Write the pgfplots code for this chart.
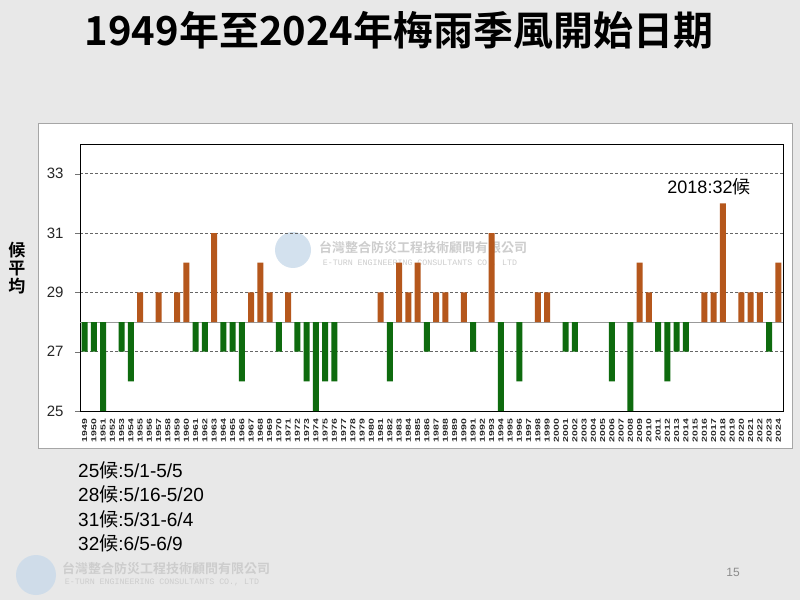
\documentclass[border=0pt]{standalone}
\usepackage{fontspec}
\setmainfont{Liberation Sans}
\newfontfamily\cjk{Noto Sans CJK TC}
\newfontfamily\cjkbold{Noto Sans CJK TC Bold}
\newfontfamily\wmmono{Liberation Mono}
\usepackage{graphicx}
\usepackage{pgfplots}
\pgfplotsset{compat=1.18}
\usepackage{pgfplotstable}
\definecolor{slidebg}{HTML}{E8E8E8}
\definecolor{barorange}{HTML}{B5571C}
\definecolor{bargreen}{HTML}{0E6B0E}
\definecolor{wmgray}{HTML}{CDCDCD}
\definecolor{logoblue}{HTML}{C9DAEA}

\pgfplotstableread{
year value
1955 29
1957 29
1959 29
1960 30
1963 31
1967 29
1968 30
1969 29
1971 29
1981 29
1983 30
1984 29
1985 30
1987 29
1988 29
1990 29
1993 31
1998 29
1999 29
2009 30
2010 29
2016 29
2017 29
2018 32
2020 29
2021 29
2022 29
2024 30
}\late

\pgfplotstableread{
year value
1949 27
1950 27
1951 25
1953 27
1954 26
1961 27
1962 27
1964 27
1965 27
1966 26
1970 27
1972 27
1973 26
1974 25
1975 26
1976 26
1982 26
1986 27
1991 27
1994 25
1996 26
2001 27
2002 27
2006 26
2008 25
2011 27
2012 26
2013 27
2014 27
2023 27
}\early

\begin{document}
\begin{tikzpicture}
\path[use as bounding box, fill=slidebg] (0pt,0pt) rectangle (800pt,600pt);
% chart box
\fill[white, draw=black!35, line width=0.8pt] (38pt,152pt) rectangle (792pt,477pt);

% title
\node[font=\cjkbold\fontsize{40}{40}\selectfont] at (399pt,570pt) {1949年至2024年梅雨季風開始日期};

% watermarks
\fill[logoblue, opacity=0.8] (293pt,350pt) circle (18pt);
\node[font=\cjkbold\fontsize{13}{13}\selectfont, text=wmgray] at (423pt,352pt) {台灣整合防災工程技術顧問有限公司};
\node[font=\wmmono\fontsize{8.3}{8.3}\selectfont, text=wmgray] at (420pt,337pt) {E-TURN ENGINEERING CONSULTANTS CO., LTD};

\fill[logoblue, opacity=0.8] (36pt,25pt) circle (20pt);
\node[font=\cjkbold\fontsize{13}{13}\selectfont, text=wmgray] at (166pt,32pt) {台灣整合防災工程技術顧問有限公司};
\node[font=\wmmono\fontsize{8.3}{8.3}\selectfont, text=wmgray] at (162pt,18pt) {E-TURN ENGINEERING CONSULTANTS CO., LTD};

\node[font=\fontsize{12}{12}\selectfont, text=black!45] at (733pt,28pt) {15};

\begin{axis}[
  at={(80pt,189pt)}, anchor=south west,
  scale only axis, width=703pt, height=267pt,
  xmin=1948.5, xmax=2024.5, ymin=-3, ymax=6,
  y filter/.expression={y-28},
  /pgf/number format/1000 sep={},
  /pgf/number format/assume math mode=true,
  xtick={1949,1950,1951,1952,1953,1954,1955,1956,1957,1958,1959,1960,1961,1962,1963,1964,1965,1966,1967,1968,1969,1970,1971,1972,1973,1974,1975,1976,1977,1978,1979,1980,1981,1982,1983,1984,1985,1986,1987,1988,1989,1990,1991,1992,1993,1994,1995,1996,1997,1998,1999,2000,2001,2002,2003,2004,2005,2006,2007,2008,2009,2010,2011,2012,2013,2014,2015,2016,2017,2018,2019,2020,2021,2022,2023,2024},
  xticklabel={\scalebox{1.45}[1]{\pgfmathprintnumber[fixed,precision=0]{\tick}}},
  xticklabel style={rotate=90, anchor=east, font=\bfseries\fontsize{7.2}{7.2}\selectfont, text=black!85, inner sep=0pt, outer sep=0pt, xshift=-3pt},
  xtick style={draw=none},
  ytick={-3,-1,1,3,5}, yticklabels={25,27,29,31,33},
  yticklabel style={font=\fontsize{15}{15}\selectfont, text=black!85, xshift=-8pt},
  ytick style={black!55},
  tick align=outside, major tick length=5pt,
  xtick pos=bottom, ytick pos=left,
  ymajorgrids,
  major grid style={black!60, dash pattern=on 3pt off 2pt, line width=0.8pt},
  extra y ticks={0}, extra y tick labels={},
  extra y tick style={grid=major, major grid style={solid, black!40, line width=0.6pt}, tick style={draw=none}},
  axis line style={black, line width=0.8pt},
  clip=false,
]
\addplot[ybar, bar width=6pt, bar shift=0pt, fill=barorange, draw=none] table[x=year, y=value] {\late};
\addplot[ybar, bar width=6pt, bar shift=0pt, fill=bargreen, draw=none] table[x=year, y=value] {\early};
\node[font=\fontsize{18}{18}\selectfont] at (axis cs:2016.5,4.55) {2018:32{\cjk 候}};
\end{axis}

% y label
\node[align=center, font=\cjkbold\fontsize{17}{18}\selectfont] at (17pt,332pt) {候\\平\\均};

% legend text
\node[anchor=north west, align=left, inner sep=0pt, font=\fontsize{19}{24.5}\selectfont] at (78pt,139pt)
 {25{\cjk 候}:5/1-5/5\\28{\cjk 候}:5/16-5/20\\31{\cjk 候}:5/31-6/4\\32{\cjk 候}:6/5-6/9};
\end{tikzpicture}
\end{document}
